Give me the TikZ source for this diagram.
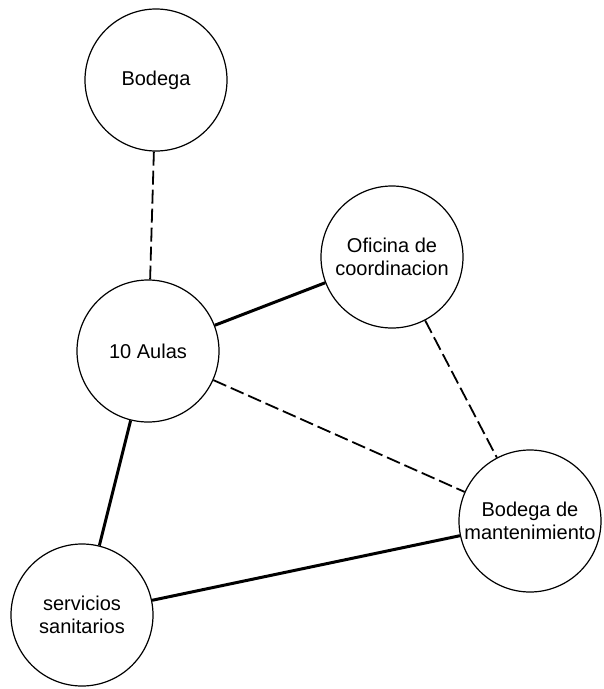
\documentclass[tikz,border=0pt]{standalone}
\usepackage{fontspec}
\setmainfont{Liberation Sans}
\begin{document}
\begin{tikzpicture}[x=1pt,y=-1pt,
  place/.style={circle,draw,line width=1.2pt,minimum size=142pt,inner sep=0pt,align=center,font=\fontsize{20}{23.5}\selectfont},
  strong/.style={line width=3pt},
  weak/.style={line width=1.8pt,dash pattern=on 14pt off 5pt}]
\useasboundingbox (0,0) rectangle (604,689);
\node[place] (bod) at (156,80) {Bodega};
\node[place] (aulas) at (148,351) {10 Aulas};
\node[place] (ofi) at (392,257) {Oficina de\\coordinacion};
\node[place] (mant) at (530,521) {Bodega de\\mantenimiento};
\node[place] (serv) at (82,615) {servicios\\sanitarios};
\draw[weak] (bod) -- (aulas);
\draw[strong] (aulas) -- (ofi);
\draw[weak] (aulas) -- (mant);
\draw[weak] (ofi) -- (mant);
\draw[strong] (aulas) -- (serv);
\draw[strong] (serv) -- (mant);
\end{tikzpicture}
\end{document}
